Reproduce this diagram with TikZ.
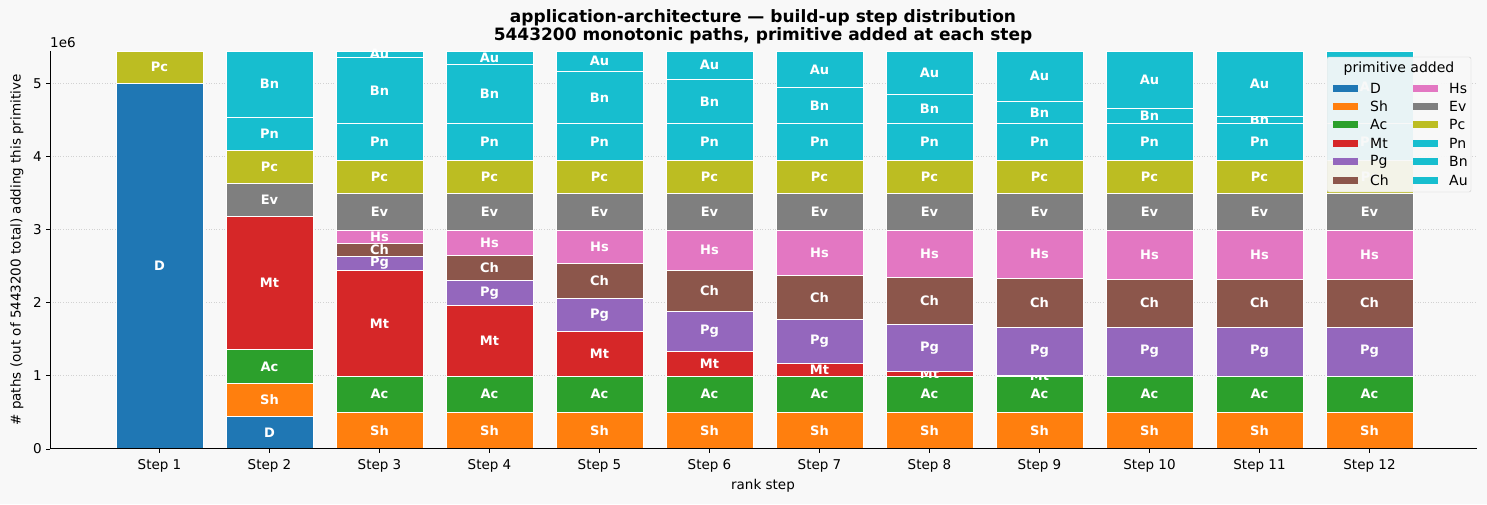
\documentclass[tikz,border=0pt]{standalone}
\usepackage{fontspec}
\setmainfont{DejaVu Sans}
\begin{document}
\begin{tikzpicture}[x=1pt,y=-1pt,
  seg/.style={draw=white,line width=0.7pt},
  lab/.style={text=white,font=\fontsize{13}{13}\selectfont\bfseries,inner sep=0pt},
  tick/.style={font=\fontsize{13.5}{13.5}\selectfont,inner sep=0pt},
  leg/.style={font=\fontsize{14}{14}\selectfont,inner sep=0pt,anchor=west}]
\definecolor{cD}{HTML}{1F77B4}\definecolor{cSh}{HTML}{FF7F0E}\definecolor{cAc}{HTML}{2CA02C}
\definecolor{cMt}{HTML}{D62728}\definecolor{cPg}{HTML}{9467BD}\definecolor{cCh}{HTML}{8C564B}
\definecolor{cHs}{HTML}{E377C2}\definecolor{cEv}{HTML}{7F7F7F}\definecolor{cPc}{HTML}{BCBD22}
\definecolor{cPn}{HTML}{17BECF}\definecolor{cBn}{HTML}{17BECF}\definecolor{cAu}{HTML}{17BECF}
\definecolor{bg}{HTML}{F8F8F8}
\fill[bg] (0,0) rectangle (1487,504);
\useasboundingbox (0,0) rectangle (1487,504);
% grid
\foreach \k in {0,...,5}{
  \pgfmathsetmacro\yy{448.7-73.06*\k}
  \draw[gray!35,dotted,line width=0.6pt] (50,\yy) -- (1477,\yy);
  \draw (50,\yy) -- (46,\yy);
  \node[tick,anchor=east] (yt\k) at (42,\yy) {\k};
}
\node[tick,anchor=south west] (mult) at (50,48) {1e6};
% bars
\foreach \s/\a/\b/\c in {
 1/448.7/83.3/D,1/83.3/51/Pc,
 2/448.7/416.3/D,2/416.3/383/Sh,2/383/349.7/Ac,2/349.7/216.7/Mt,2/216.7/183.3/Ev,2/183.3/150.3/Pc,2/150.3/117.3/Pn,2/117.3/51/Bn,
 3/448.7/412.3/Sh,3/412.3/376.3/Ac,3/376.3/270.3/Mt,3/270.3/256.7/Pg,3/256.7/243.3/Ch,3/243.3/230.3/Hs,3/230.3/193.7/Ev,3/193.7/160.3/Pc,3/160.3/123.3/Pn,3/123.3/57.3/Bn,3/57.3/51/Au,
 4/448.7/412.3/Sh,4/412.3/376.3/Ac,4/376.3/305.7/Mt,4/305.7/280.3/Pg,4/280.3/255.7/Ch,4/255.7/230.3/Hs,4/230.3/193.7/Ev,4/193.7/160.3/Pc,4/160.3/123.3/Pn,4/123.3/64.3/Bn,4/64.3/51/Au,
 5/448.7/412.3/Sh,5/412.3/376.3/Ac,5/376.3/331.7/Mt,5/331.7/298.3/Pg,5/298.3/263.3/Ch,5/263.3/230.3/Hs,5/230.3/193.7/Ev,5/193.7/160.3/Pc,5/160.3/123.3/Pn,5/123.3/71.3/Bn,5/71.3/51/Au,
 6/448.7/412.3/Sh,6/412.3/376.3/Ac,6/376.3/351.3/Mt,6/351.3/311.3/Pg,6/311.3/270.3/Ch,6/270.3/230.3/Hs,6/230.3/193.7/Ev,6/193.7/160.3/Pc,6/160.3/123.3/Pn,6/123.3/79.3/Bn,6/79.3/51/Au,
 7/448.7/412.3/Sh,7/412.3/376.3/Ac,7/376.3/363.3/Mt,7/363.3/319.3/Pg,7/319.3/275.3/Ch,7/275.3/230.3/Hs,7/230.3/193.7/Ev,7/193.7/160.3/Pc,7/160.3/123.3/Pn,7/123.3/87.7/Bn,7/87.7/51/Au,
 8/448.7/412.3/Sh,8/412.3/376.3/Ac,8/376.3/371.3/Mt,8/371.3/324.3/Pg,8/324.3/277.3/Ch,8/277.3/230.3/Hs,8/230.3/193.7/Ev,8/193.7/160.3/Pc,8/160.3/123.3/Pn,8/123.3/94.3/Bn,8/94.3/51/Au,
 9/448.7/412.3/Sh,9/412.3/376.3/Ac,9/376.3/375.3/Mt,9/375.3/327/Pg,9/327/278.3/Ch,9/278.3/230.3/Hs,9/230.3/193.7/Ev,9/193.7/160.3/Pc,9/160.3/123.3/Pn,9/123.3/101.3/Bn,9/101.3/51/Au,
 10/448.7/412.3/Sh,10/412.3/376.3/Ac,10/376.3/327/Pg,10/327/279/Ch,10/279/230.3/Hs,10/230.3/193.7/Ev,10/193.7/160.3/Pc,10/160.3/123.3/Pn,10/123.3/108.3/Bn,10/108.3/51/Au,
 11/448.7/412.3/Sh,11/412.3/376.3/Ac,11/376.3/327/Pg,11/327/279/Ch,11/279/230.3/Hs,11/230.3/193.7/Ev,11/193.7/160.3/Pc,11/160.3/123.3/Pn,11/123.3/116.3/Bn,11/116.3/51/Au,
 12/448.7/412.3/Sh,12/412.3/376.3/Ac,12/376.3/327/Pg,12/327/279/Ch,12/279/230.3/Hs,12/230.3/193.7/Ev,12/193.7/160.3/Pc,12/160.3/123.3/Pn,12/123.3/51/Au}{
  \pgfmathsetmacro\xc{159.5+110*(\s-1)}
  \filldraw[seg,fill=c\c] (\xc-43.5,\a) rectangle (\xc+43.5,\b);
  \node[lab] (l\s\c) at (\xc,{(\a+\b)/2}) {\c};
}
% axes
\draw[line width=0.9pt] (50,51) -- (50,448.7) -- (1477,448.7);
\foreach \s in {1,...,12}{
  \pgfmathsetmacro\xc{159.5+110*(\s-1)}
  \draw (\xc,448.7) -- (\xc,453);
  \node[tick] (xt\s) at (\xc,466) {Step \s};
}
\node[tick] (xl) at (763,486) {rank step};
\node[tick,rotate=90] (yl) at (17,250) {\# paths (out of 5443200 total) adding this primitive};
\node[font=\fontsize{17}{17}\selectfont\bfseries,inner sep=0pt,align=center] (title) at (763,27) {application-architecture — build-up step distribution\\[1pt]5443200 monotonic paths, primitive added at each step};
% legend
\filldraw[fill=bg,fill opacity=0.93,draw=gray!40,rounded corners=2pt] (1327,57) rectangle (1471,192);
\node[font=\fontsize{14}{14}\selectfont,inner sep=0pt] (lt) at (1399,69) {primitive added};
\foreach \n/\r in {D/0,Sh/1,Ac/2,Mt/3,Pg/4,Ch/5}{
  \fill[c\n] (1333,{88+18.4*\r-3.5}) rectangle (1358,{88+18.4*\r+3.5});
  \node[leg] (g\n) at (1370,{88+18.4*\r}) {\n};
}
\foreach \n/\r in {Hs/0,Ev/1,Pc/2,Pn/3,Bn/4,Au/5}{
  \fill[c\n] (1413,{88+18.4*\r-3.5}) rectangle (1438,{88+18.4*\r+3.5});
  \node[leg] (g\n) at (1449,{88+18.4*\r}) {\n};
}
\end{tikzpicture}
\end{document}
